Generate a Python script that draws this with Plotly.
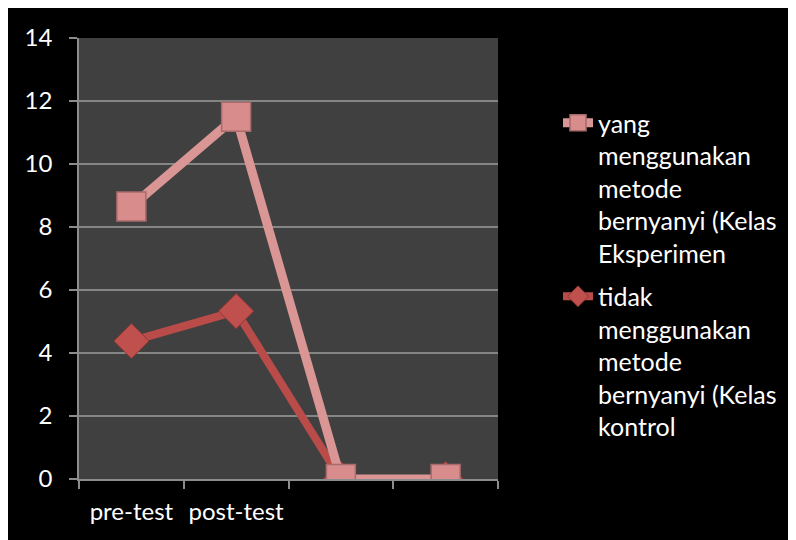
import plotly.graph_objects as go

categories = ["pre-test", "post-test", " ", "  "]
eksperimen = [8.65, 11.5, 0, 0]
kontrol = [4.38, 5.33, 0, 0]
name_eks = "yang<br>menggunakan<br>metode<br>bernyanyi (Kelas<br>Eksperimen"
name_kon = "tidak<br>menggunakan<br>metode<br>bernyanyi (Kelas<br>kontrol"
y_ticks = [0, 2, 4, 6, 8, 10, 12, 14]

FONT = "Lato, Open Sans, sans-serif"
FS = 24
LFS = 25

fig = go.Figure()
fig.add_trace(go.Scatter(
    x=categories, y=kontrol, name=name_kon, mode="lines+markers",
    line=dict(color="#B94C49", width=8),
    marker=dict(symbol="diamond", size=27, color="#C0504D",
                line=dict(color="#8E3634", width=1)),
    legendrank=2, legendgroup="kon",
))
fig.add_trace(go.Scatter(
    x=categories, y=eksperimen, name=name_eks, mode="lines+markers",
    line=dict(color="#D99694", width=9),
    marker=dict(symbol="square", size=29, color="#D88C8C",
                line=dict(color="#A86A6A", width=1.5)),
    legendrank=1, legendgroup="eks",
))

# figure coordinates (page has an 8px body margin)
W, H = 796, 540
L, R, T, B = 71, 306, 30, 69
pw, ph = W - L - R, H - T - B

def px(x):
    return (x - L) / pw

def py(y):
    return (H - B - y) / ph

fig.update_layout(
    width=W, height=H,
    margin=dict(l=L, r=R, t=T, b=B, pad=0, autoexpand=False),
    paper_bgcolor="black",
    plot_bgcolor="#404040",
    font=dict(family=FONT, color="white", size=FS),
    showlegend=True,
    legend=dict(
        x=px(550), y=py(92), xanchor="left", yanchor="top",
        font=dict(family=FONT, size=LFS, color="white"),
        valign="top", tracegroupgap=8, bgcolor="rgba(0,0,0,0)",
        traceorder="grouped", itemwidth=30,
    ),
    xaxis=dict(
        type="category", categoryorder="array", categoryarray=categories,
        range=[-0.5, 3.5], tickson="boundaries", tickangle=0, automargin=False,
        ticks="outside", ticklen=8, tickcolor="#8C8C8C", tickwidth=1.5,
        showline=True, linecolor="#8C8C8C", linewidth=1.5,
        showgrid=False, zeroline=False, ticklabelstandoff=10,
        tickfont=dict(family=FONT, size=FS, color="white"),
    ),
    yaxis=dict(
        range=[0, 14], tickvals=y_ticks, automargin=False,
        ticks="outside", ticklen=8, tickcolor="#8C8C8C", tickwidth=1.5,
        showline=True, linecolor="#8C8C8C", linewidth=1.5,
        showgrid=True, gridcolor="#858585", gridwidth=1.5,
        zeroline=False, ticklabelstandoff=12,
        tickfont=dict(family=FONT, size=FS, color="white"),
    ),
)

fig.write_html("out.html")
